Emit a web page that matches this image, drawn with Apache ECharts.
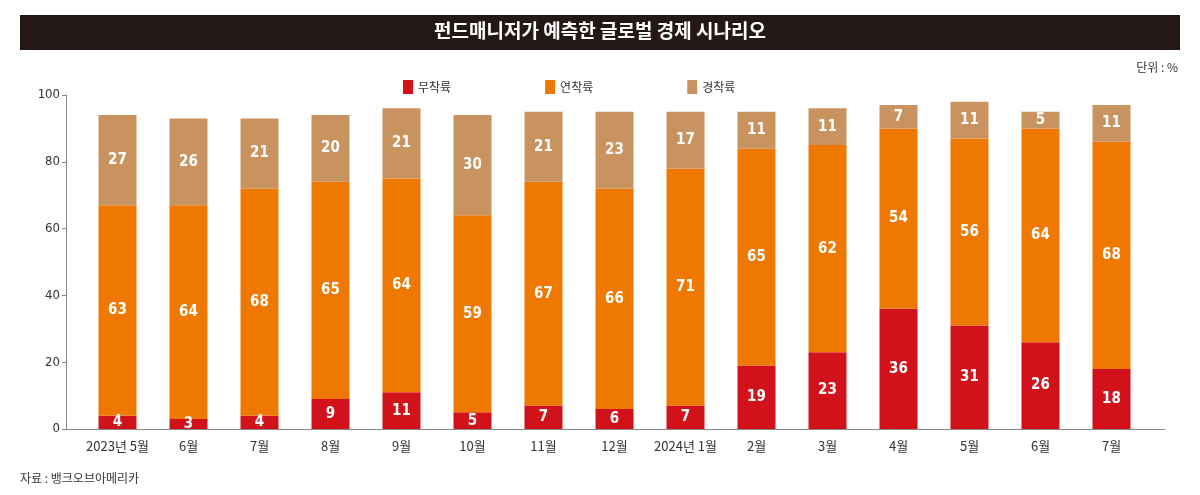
<!DOCTYPE html>
<html><head><meta charset="utf-8">
<script src="https://cdn.jsdelivr.net/npm/echarts@6/dist/echarts.min.js"></script>
<style>html,body{margin:0;padding:0;background:#fff}#c{width:1200px;height:495px}</style>
</head><body><div id="c"></div>
<script>
const categories = ['2023년 5월','6월','7월','8월','9월','10월','11월','12월','2024년 1월','2월','3월','4월','5월','6월','7월'];
const noLanding = [4,3,4,9,11,5,7,6,7,19,23,36,31,26,18];
const softLanding = [63,64,68,65,64,59,67,66,71,65,62,54,56,64,68];
const hardLanding = [27,26,21,20,21,30,21,23,17,11,11,7,11,5,11];
const seriesNames = ['무착륙','연착륙','경착륙'];
const colors = ['#d1121b','#ee7800','#c9935f'];
const yTicks = {min:0, max:100, interval:20};

const font = '"Noto Sans CJK KR", sans-serif';
const labelFont = '"DejaVu Sans Condensed", "Noto Sans CJK KR", sans-serif';
const chart = echarts.init(document.getElementById('c'), null, {renderer:'canvas'});
function mk(name, data, i){
  return {
    name, type:'bar', stack:'all', data, barWidth:38,
    itemStyle:{color:colors[i]},
    label:{show:true, position:'inside', color:'#fff', fontWeight:'bold', fontSize:15, fontFamily:labelFont},
    emphasis:{disabled:true}
  };
}
chart.setOption({
  animation:false,
  textStyle:{fontFamily:font},
  graphic:[
    {type:'rect', left:20, top:15, shape:{width:1160, height:35}, style:{fill:'#231815'}, z:0},
    {type:'text', left:'center', top:21, style:{text:'펀드매니저가 예측한 글로벌 경제 시나리오', fill:'#fff', font:'bold 19px "Noto Sans CJK KR"'}, z:1},
    {type:'text', right:22, top:61, style:{text:'단위 : %', fill:'#333', font:'12px "Noto Sans CJK KR"'}},
    {type:'text', left:20, top:472, style:{text:'자료 : 뱅크오브아메리카', fill:'#333', font:'12px "Noto Sans CJK KR"'}}
  ],
  legend:{
    top:75, left:398, itemWidth:10, itemHeight:14, itemGap:94,
    icon:'rect',
    textStyle:{fontSize:12, color:'#333', fontFamily:font},
    data:seriesNames
  },
  grid:[
    {left:82, right:53, top:95, bottom:66, containLabel:false},
    {left:66, right:35, top:95, bottom:66, containLabel:false}
  ],
  xAxis:[
    {type:'category', gridIndex:0, data:categories,
     axisLine:{show:false}, axisTick:{show:false},
     axisLabel:{interval:0, color:'#333', fontSize:13, fontFamily:font, margin:11}},
    {type:'value', gridIndex:1, min:0, max:1, axisLine:{show:true, lineStyle:{color:'#888', width:1}},
     axisTick:{show:false}, axisLabel:{show:false}, splitLine:{show:false}}
  ],
  yAxis:[
    {type:'value', gridIndex:0, min:yTicks.min, max:yTicks.max, interval:yTicks.interval, offset:16,
     axisLine:{show:true, lineStyle:{color:'#888'}},
     axisTick:{show:true, length:4, lineStyle:{color:'#888'}},
     splitLine:{show:false},
     axisLabel:{color:'#333', fontSize:13, fontFamily:labelFont, margin:6}},
    {type:'value', gridIndex:1, min:0, max:1, show:false}
  ],
  series:[
    mk(seriesNames[0], noLanding, 0),
    mk(seriesNames[1], softLanding, 1),
    mk(seriesNames[2], hardLanding, 2)
  ]
});
</script></body></html>
